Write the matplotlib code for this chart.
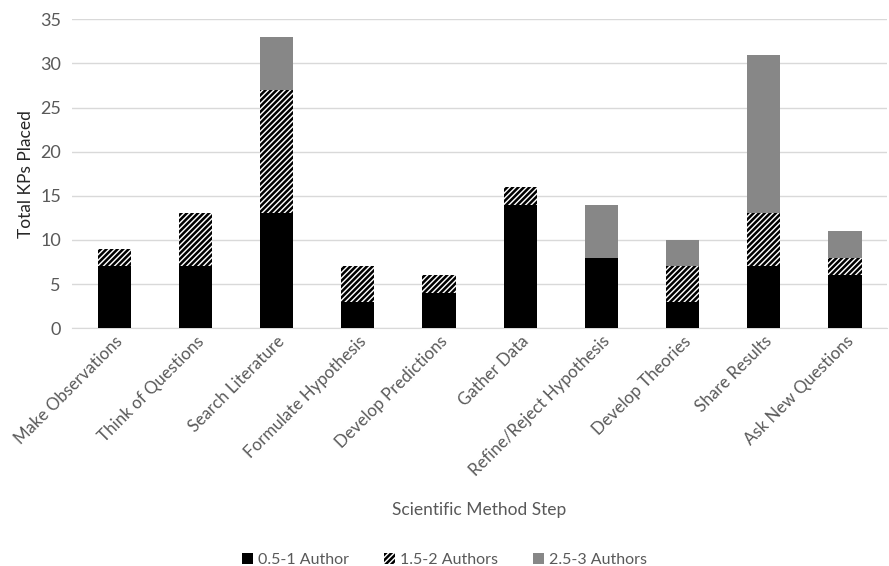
import matplotlib.pyplot as plt
import numpy as np

steps = ['Make Observations', 'Think of Questions', 'Search Literature',
         'Formulate Hypothesis', 'Develop Predictions', 'Gather Data',
         'Refine/Reject Hypothesis', 'Develop Theories', 'Share Results',
         'Ask New Questions']
one_author = [7, 7, 13, 3, 4, 14, 8, 3, 7, 6]
two_authors = [2, 6, 14, 4, 2, 2, 0, 4, 6, 2]
three_authors = [0, 0, 6, 0, 0, 0, 6, 3, 18, 3]

txt = '#595959'
plt.rc('font', family=['Lato', 'DejaVu Sans'])
plt.rc('hatch', linewidth=1.8)

fig = plt.figure(figsize=(8.89, 5.66), dpi=100)
ax = fig.add_axes([0.081, 0.42, 0.917, 0.546])

xs = np.arange(len(steps))
width = 0.41
b1 = np.array(one_author)
b2 = b1 + np.array(two_authors)
ax.bar(xs, one_author, width, color='black', label='0.5-1 Author', zorder=3)
ax.bar(xs, two_authors, width, bottom=b1, color='white', edgecolor='black',
       hatch='//////', linewidth=0, label='1.5-2 Authors', zorder=3)
ax.bar(xs, three_authors, width, bottom=b2, color='#878787',
       label='2.5-3 Authors', zorder=3)

ax.set_xlim(-0.52, len(steps) - 0.48)
ax.set_ylim(0, 35)
ax.set_yticks(np.arange(0, 36, 5))
ax.yaxis.grid(True, color='#d9d9d9', linewidth=1, zorder=0)
for s in ['top', 'right', 'left']:
    ax.spines[s].set_visible(False)
ax.spines['bottom'].set_color('#d9d9d9')
ax.tick_params(axis='both', length=0, colors=txt, labelsize=13)
ax.tick_params(axis='y', pad=8)
ax.set_xticks(xs)
ax.set_xticklabels(steps, rotation=45, ha='right', rotation_mode='anchor',
                   fontsize=12.2)
ax.set_ylabel('Total KPs Placed', fontsize=12.5, color='#262626')
ax.set_xlabel('Scientific Method Step', fontsize=12.5, color=txt, labelpad=16)

fig.legend(loc='lower center', bbox_to_anchor=(0.5, -0.027), ncol=3,
           frameon=False, fontsize=11.5, labelcolor=txt, handlelength=0.7,
           handleheight=0.7, handletextpad=0.3, columnspacing=2.2)

fig.savefig('out.png', dpi=100)
